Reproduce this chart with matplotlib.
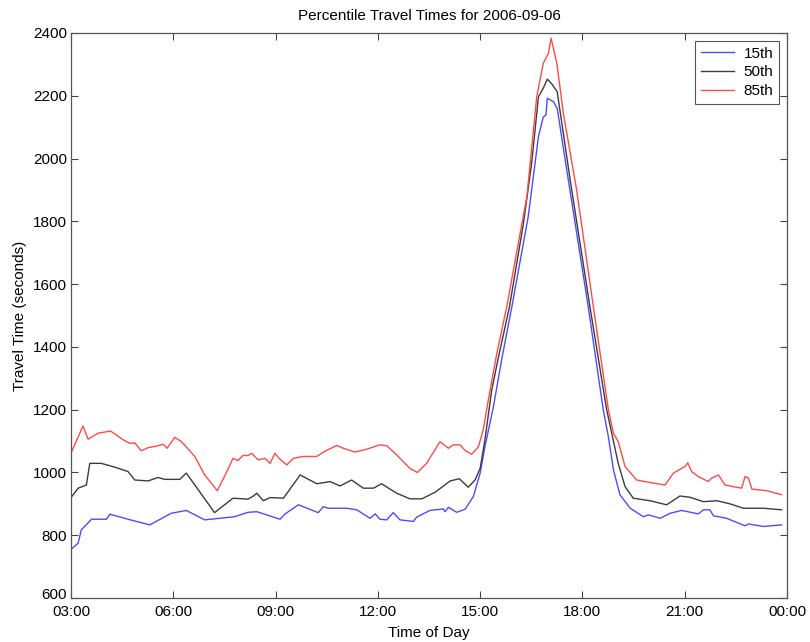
import matplotlib.pyplot as plt
from matplotlib.ticker import FuncFormatter
from matplotlib.transforms import ScaledTranslation

plt.rcParams['font.family'] = ['Liberation Sans', 'DejaVu Sans']

# hours after midnight (03:00 -> 3, 00:00 -> 24) and travel times in seconds
t15 = [3.00, 3.21, 3.30, 3.60, 4.04, 4.14, 4.67, 5.31, 5.94, 6.38, 6.92, 7.80,
       8.19, 8.45, 9.13, 9.28, 9.67, 10.25, 10.40, 10.55, 11.09, 11.38, 11.77,
       11.92, 12.06, 12.26, 12.45, 12.65, 13.04, 13.14, 13.53, 13.92, 13.97,
       14.07, 14.31, 14.56, 14.80, 15.00, 15.14, 15.39, 15.63, 15.93, 16.41,
       16.71, 16.85, 16.93, 16.97, 17.15, 17.26, 17.54, 18.17, 18.61, 18.76,
       18.91, 19.10, 19.40, 19.79, 19.94, 20.28, 20.57, 20.91, 21.40, 21.55,
       21.74, 21.84, 22.23, 22.77, 22.87, 23.31, 23.84]
p15 = [755, 775, 817, 851, 851, 867, 851, 833, 870, 879, 849, 859,
       873, 875, 851, 868, 897, 872, 891, 886, 886, 881, 854,
       868, 851, 849, 872, 849, 844, 858, 879, 884, 875,
       889, 873, 883, 923, 998, 1082, 1210, 1359, 1528, 1815,
       2070, 2132, 2139, 2192, 2181, 2160, 1964, 1528, 1200, 1114,
       1008, 929, 886, 859, 865, 854, 870, 879, 868, 881,
       881, 862, 854, 830, 836, 828, 833]

t50 = [3.00, 3.21, 3.45, 3.55, 3.89, 4.28, 4.67, 4.87, 5.26, 5.55, 5.75, 6.19,
       6.38, 6.77, 7.21, 7.75, 8.19, 8.35, 8.45, 8.64, 8.84, 9.23, 9.72, 10.21,
       10.60, 10.89, 11.23, 11.57, 11.87, 12.11, 12.55, 12.94, 13.29, 13.68,
       14.12, 14.39, 14.65, 14.85, 15.00, 15.14, 15.34, 15.53, 15.86, 16.27,
       16.51, 16.71, 16.85, 16.97, 17.10, 17.26, 17.64, 18.22, 18.71, 18.86,
       19.05, 19.25, 19.49, 19.98, 20.47, 20.86, 21.15, 21.55, 21.94, 22.33,
       22.72, 23.31, 23.84]
p50 = [920, 950, 960, 1029, 1029, 1017, 1003, 976, 973, 984, 978, 978,
       998, 939, 872, 918, 915, 925, 934, 910, 920, 918, 992, 964,
       971, 957, 976, 950, 950, 964, 934, 916, 916, 937,
       973, 980, 953, 976, 1013, 1104, 1263, 1364, 1528, 1794,
       1985, 2197, 2224, 2253, 2238, 2213, 1932, 1528, 1200, 1125,
       1029, 955, 918, 910, 897, 925, 921, 907, 910, 900,
       886, 886, 881]

t85 = [3.00, 3.35, 3.50, 3.79, 4.16, 4.53, 4.72, 4.87, 5.06, 5.26, 5.55, 5.70,
       5.82, 6.04, 6.24, 6.63, 6.92, 7.29, 7.55, 7.75, 7.90, 8.04, 8.19, 8.30,
       8.49, 8.69, 8.84, 8.98, 9.13, 9.33, 9.52, 9.81, 10.21, 10.40, 10.79,
       10.99, 11.33, 11.67, 12.06, 12.26, 12.55, 12.94, 13.16, 13.43, 13.82,
       14.07, 14.21, 14.41, 14.56, 14.75, 14.95, 15.09, 15.24, 15.49, 15.78,
       16.37, 16.66, 16.85, 17.00, 17.08, 17.25, 17.44, 17.83, 18.32, 18.76,
       18.91, 19.05, 19.25, 19.59, 19.98, 20.42, 20.67, 20.91, 21.01, 21.09,
       21.20, 21.40, 21.69, 21.79, 21.99, 22.18, 22.52, 22.67, 22.77, 22.87,
       22.97, 23.40, 23.84]
p85 = [1062, 1148, 1106, 1125, 1132, 1104, 1093, 1094, 1069, 1079, 1085, 1090,
       1077, 1112, 1098, 1051, 992, 942, 998, 1045, 1038, 1054, 1054, 1061,
       1040, 1045, 1029, 1061, 1042, 1024, 1045, 1051, 1051, 1065, 1086,
       1077, 1065, 1074, 1088, 1085, 1056, 1013, 1000, 1029, 1098,
       1077, 1088, 1088, 1070, 1058, 1082, 1136, 1231, 1380, 1528,
       1879, 2197, 2303, 2335, 2383, 2303, 2144, 1900, 1528, 1200,
       1125, 1098, 1019, 976, 968, 960, 998, 1013, 1019, 1031,
       1003, 987, 971, 982, 992, 960, 953, 950, 987, 982,
       947, 942, 929]

hour_ticks = [3, 6, 9, 12, 15, 18, 21, 24]

fig = plt.figure(figsize=(8.1, 6.42), dpi=100)
ax = fig.add_axes([0.0877, 0.0685, 0.8839, 0.8801])

ax.plot(t15, p15, color='#4c4cff', lw=1.0, label='15th')
ax.plot(t50, p50, color='#3c3c3c', lw=1.0, label='50th')
ax.plot(t85, p85, color='#ff4a4a', lw=1.0, label='85th')

ax.set_xlim(3, 24)
ax.set_ylim(600, 2400)
ax.set_xticks(hour_ticks)
ax.xaxis.set_major_formatter(FuncFormatter(lambda h, _: f"{int(h) % 24:02d}:00"))
ax.set_yticks(range(600, 2401, 200))

ax.tick_params(direction='in', top=True, right=True, length=5, width=0.8,
               labelsize=11, colors='#444444', labelcolor='black', pad=3)
ax.tick_params(axis='x', pad=5)
# nudge the bottom y label up a few pixels, clear of the first time label
lab0 = ax.get_yticklabels()[0]
lab0.set_transform(lab0.get_transform() + ScaledTranslation(0, 3 / 72, fig.dpi_scale_trans))
for s in ax.spines.values():
    s.set_color('#555555')
    s.set_linewidth(0.9)

ax.set_title('Percentile Travel Times for 2006-09-06', fontsize=11, pad=9)
ax.set_xlabel('Time of Day', fontsize=11, labelpad=5)
ax.set_ylabel('Travel Time (seconds)', fontsize=11, labelpad=4)

leg = ax.legend(loc='upper right', fontsize=11, fancybox=False, framealpha=1,
                edgecolor='#555555', handlelength=2.2, handletextpad=0.6,
                labelspacing=0.3, borderaxespad=0.5, borderpad=0.4)
leg.get_frame().set_linewidth(0.8)

fig.savefig('out.png', dpi=100)
